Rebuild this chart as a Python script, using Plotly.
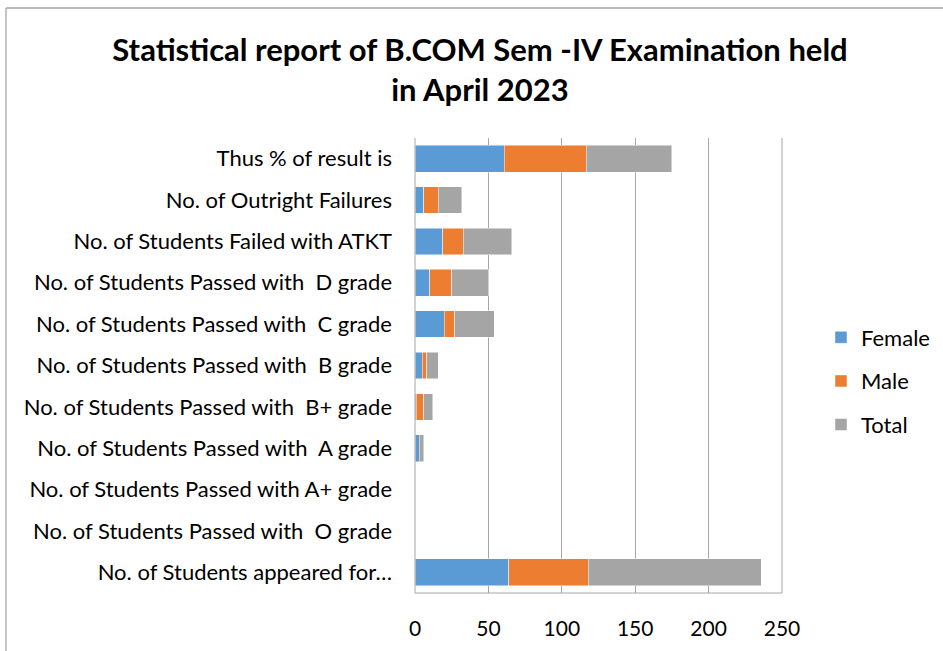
import plotly.graph_objects as go

categories = [
    "No. of Students appeared for…",
    "No. of Students Passed with \u00a0O grade",
    "No. of Students Passed with A+ grade",
    "No. of Students Passed with \u00a0A grade",
    "No. of Students Passed with \u00a0B+ grade",
    "No. of Students Passed with \u00a0B grade",
    "No. of Students Passed with \u00a0C grade",
    "No. of Students Passed with \u00a0D grade",
    "No. of Students Failed with ATKT",
    "No. of Outright Failures",
    "Thus % of result is",
]
female = [64, 0, 0, 3, 1, 5, 20, 10, 19, 6, 60.94]
male = [54, 0, 0, 0, 5, 3, 7, 15, 14, 10, 55.56]
total = [118, 0, 0, 3, 6, 8, 27, 25, 33, 16, 58.47]
series_names = ["Female", "Male", "Total"]
colors = ["#5B9BD5", "#ED7D31", "#A5A5A5"]
x_ticks = [0, 50, 100, 150, 200, 250]

FONT = "Lato"
fig = go.Figure()
for name, vals, col in zip(series_names, [female, male, total], colors):
    fig.add_trace(go.Bar(
        y=categories, x=vals, name=name, orientation="h",
        marker=dict(color=col, line=dict(color="rgba(255,255,255,0.6)", width=0.8)),
        legendgroup=name,
    ))

W, H = 943, 651
L, R, T, B = 415, 782, 138, 593
pw, ph = R - L, B - T

def px(x):
    return (x - L) / pw

def py(y):
    return (B - y) / ph

fig.update_layout(
    width=W, height=H,
    barmode="stack", bargap=0.355,
    plot_bgcolor="white", paper_bgcolor="white",
    margin=dict(l=L, r=W - R, t=T, b=H - B, autoexpand=False),
    font=dict(family=FONT, color="black"),
    title=dict(
        text="<b>Statistical report of B.COM Sem -IV Examination held<br>in April 2023</b>",
        x=480 / W, xref="container", xanchor="center",
        y=1 - 61 / H, yref="container", yanchor="middle",
        font=dict(family=FONT, size=31, color="black"),
    ),
    xaxis=dict(
        range=[0, 250], tickvals=x_ticks, showgrid=True, gridcolor="#A6A6A6", gridwidth=1,
        zeroline=False, showline=False, ticks="", tickfont=dict(size=21, family=FONT, color="black"),
        ticklabelstandoff=21, fixedrange=True,
    ),
    yaxis=dict(
        categoryorder="array", categoryarray=categories, showgrid=False, zeroline=False,
        showline=False, ticks="", tickfont=dict(size=22, family=FONT, color="black"),
        ticklabelstandoff=22, range=[-0.5, 10.5], fixedrange=True,
    ),
    legend=dict(
        x=px(821), y=py(381), xanchor="left", yanchor="middle",
        traceorder="grouped", tracegroupgap=12,
        font=dict(size=22, family=FONT, color="black"),
        itemwidth=30, bgcolor="rgba(0,0,0,0)",
    ),
    showlegend=True,
)

# plot area frame (left, bottom, right)
line_style = dict(color="#A6A6A6", width=1)
fig.add_shape(type="line", xref="paper", yref="paper", x0=0, x1=0, y0=0, y1=1, line=line_style)
fig.add_shape(type="line", xref="paper", yref="paper", x0=0, x1=1, y0=0, y1=0, line=line_style)
fig.add_shape(type="line", xref="paper", yref="paper", x0=1, x1=1, y0=0, y1=1, line=line_style)

# outer chart border (top and left visible)
border = dict(color="#A6A6A6", width=1.3)
fig.add_shape(type="line", xref="paper", yref="paper", x0=px(6), x1=px(960), y0=py(8), y1=py(8), line=border)
fig.add_shape(type="line", xref="paper", yref="paper", x0=px(6), x1=px(6), y0=py(8), y1=py(700), line=border)

fig.write_html("out.html", config={"displayModeBar": False})

# remove default page margin so the figure sits at the window origin
with open("out.html", "r", encoding="utf-8") as f:
    html = f.read()
html = html.replace("<head>", "<head><style>html,body{margin:0;padding:0;overflow:hidden;}</style>", 1)
with open("out.html", "w", encoding="utf-8") as f:
    f.write(html)
